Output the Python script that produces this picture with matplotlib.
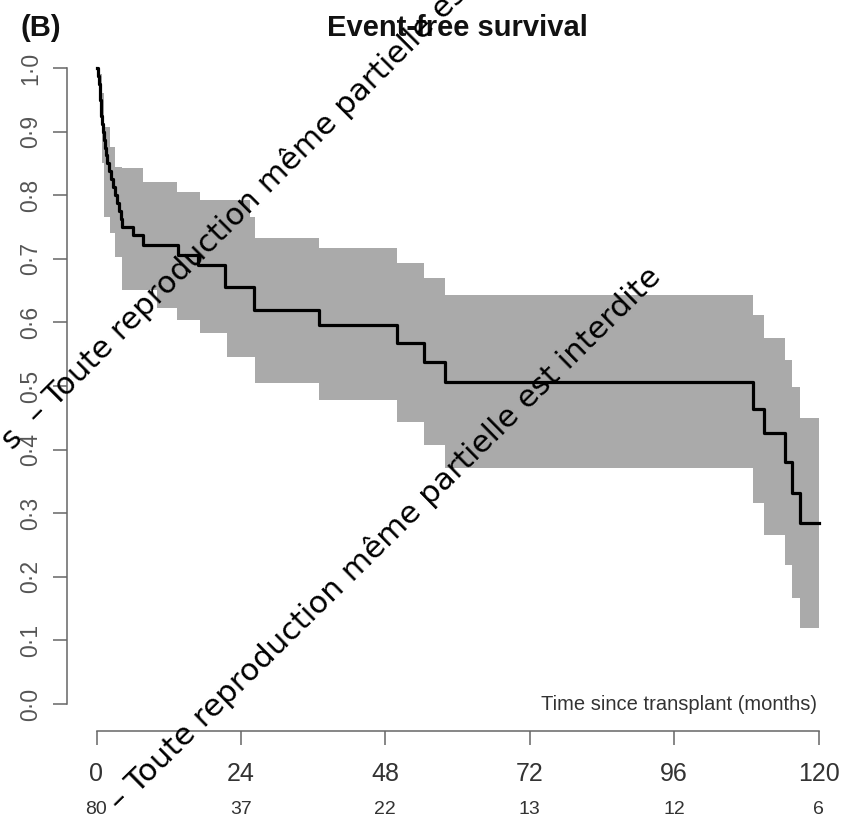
import matplotlib
matplotlib.use("Agg")
import matplotlib.pyplot as plt
from matplotlib.transforms import blended_transform_factory

plt.rcParams['font.family'] = ['Liberation Sans', 'DejaVu Sans']

# Kaplan-Meier estimate (months, survival)
time = [0.0, 0.2, 0.35, 0.5, 0.6, 0.7, 0.8, 0.95, 1.1, 1.2, 1.35, 1.5, 1.7, 2.0, 2.4,
        2.8, 3.1, 3.4, 3.7, 4.0, 4.3, 6.1, 7.8, 13.6, 16.8, 21.4, 26.2, 37.0, 49.9,
        54.4, 58.0, 109.1, 110.9, 114.5, 115.6, 117.0, 120.0]
surv = [1.0, 0.9875, 0.975, 0.9625, 0.95, 0.9375, 0.925, 0.9125, 0.90, 0.8875, 0.875,
        0.8625, 0.85, 0.8375, 0.825, 0.8125, 0.80, 0.7875, 0.775, 0.7625, 0.75, 0.7375,
        0.722, 0.706, 0.69, 0.656, 0.619, 0.596, 0.567, 0.538, 0.506, 0.464, 0.426,
        0.38, 0.332, 0.285, 0.285]

# 95% confidence band
ci_time = [0.0, 0.5, 0.9, 1.2, 2.3, 3.1, 4.3, 7.8, 10.1, 13.4, 17.2, 21.7, 25.5, 26.4,
           37.0, 49.9, 54.5, 58.0, 109.1, 110.9, 114.5, 115.6, 117.0, 120.0]
ci_upper = [1.0, 0.99, 0.96, 0.907, 0.876, 0.844, 0.843, 0.82, 0.82, 0.805, 0.792, 0.792,
            0.766, 0.733, 0.717, 0.693, 0.67, 0.643, 0.611, 0.575, 0.541, 0.498, 0.45, 0.45]
ci_lower = [1.0, 0.93, 0.85, 0.766, 0.74, 0.703, 0.651, 0.651, 0.623, 0.604, 0.583, 0.546,
            0.546, 0.505, 0.478, 0.443, 0.407, 0.371, 0.316, 0.266, 0.219, 0.167, 0.12, 0.12]

x_ticks = [0, 24, 48, 72, 96, 120]
at_risk = [80, 37, 22, 13, 12, 6]
y_ticks = [0.0, 0.1, 0.2, 0.3, 0.4, 0.5, 0.6, 0.7, 0.8, 0.9, 1.0]
y_labels = ['0·0', '0·1', '0·2', '0·3', '0·4', '0·5', '0·6', '0·7', '0·8', '0·9', '1·0']

W, H = 852, 823
fig = plt.figure(figsize=(W / 100, H / 100), dpi=100)
ax = fig.add_axes([96.5 / W, 1 - 704 / H, 722 / W, 636 / H])

ax.fill_between(ci_time, ci_lower, ci_upper, step='post', color='#aaaaaa', lw=0)
ax.step(time, surv, where='post', color='black', lw=2.3, clip_on=False)

ax.set_xlim(0, 120)
ax.set_ylim(0, 1)
ax.spines['top'].set_visible(False)
ax.spines['right'].set_visible(False)
ax.spines['left'].set_position(('outward', 21))
ax.spines['bottom'].set_position(('outward', 19.5))
ax.spines['left'].set_bounds(0, 1)
ax.spines['bottom'].set_bounds(0, 120)
for s in ['left', 'bottom']:
    ax.spines[s].set_color('#666666')
    ax.spines[s].set_linewidth(1.1)

ax.set_xticks(x_ticks)
ax.set_xticklabels([str(v) for v in x_ticks], fontsize=18, color='#333333')
ax.set_yticks(y_ticks)
ax.set_yticklabels(y_labels, rotation=90, va='center', fontsize=16.5, color='#555555')
ax.tick_params(axis='both', length=10, width=1.1, color='#666666')
ax.tick_params(axis='x', pad=12)
ax.tick_params(axis='y', pad=8)

# numbers at risk under the time axis
trans = blended_transform_factory(ax.transData, fig.transFigure)
for t, n in zip(x_ticks, at_risk):
    ax.text(t, 1 - 810 / H, str(n), transform=trans, ha='center', va='center',
            fontsize=14, color='#333333', clip_on=False)

ax.text(119.7, 0.0, 'Time since transplant (months)', ha='right', va='center',
        fontsize=14.5, color='#333333')

fig.text(457 / W, 1 - 28 / H, 'Event-free survival', ha='center', va='center',
         fontsize=21, fontweight='bold', color='#111111')
fig.text(20 / W, 1 - 28 / H, '(B)', ha='left', va='center',
         fontsize=21, fontweight='bold', color='#111111')

# watermark
wm = 'Toute reproduction même partielle est interdite'
fig.text(12.9 / W, 1 - 451 / H, 's  – ' + wm, rotation=45, rotation_mode='anchor',
         ha='left', va='baseline', fontsize=22.3, family='DejaVu Sans', color='black')
fig.text(120 / W, 1 - 812 / H, '– ' + wm, rotation=44.5, rotation_mode='anchor',
         ha='left', va='baseline', fontsize=22.3, family='DejaVu Sans', color='black')

fig.savefig('out.png', dpi=100)
